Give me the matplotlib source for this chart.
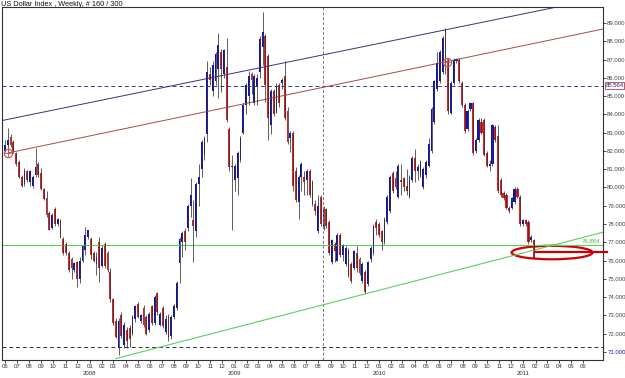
import datetime as dt
import matplotlib
matplotlib.use("Agg")
import matplotlib.pyplot as plt
import matplotlib.transforms as mtransforms
from matplotlib.patches import Ellipse
import numpy as np

# weekly US Dollar Index candles, first week = 1 Jun 2007
opens = [82.0, 82.3, 82.78, 82.5, 81.9, 81.4, 80.6, 80.2, 80.9, 80.3, 80.1, 80.7, 81.3, 80.8, 79.9, 79.4,
         78.6, 77.8, 78.8, 78.0, 78.2, 77.2, 76.9, 76.4, 76.1, 75.5, 75.9, 75.0, 76.0, 76.6, 77.3, 77.2,
         76.4, 75.8, 77.0, 75.7, 76.9, 76.4, 75.4, 73.9, 72.7, 71.2, 73.0, 71.4, 72.2, 72.3, 72.0, 72.8,
         73.6, 72.7, 73.4, 72.9, 72.2, 73.5, 72.6, 74.2,
         72.5, 73.4, 72.1, 72.9, 71.9, 72.9, 73.4, 75.85, 77.0, 77.6, 77.8, 79.0, 78.2, 77.6, 80.2, 81.0,
         81.8, 82.9, 86.2, 85.3, 85.8, 86.5, 87.4, 86.2, 86.6, 83.2, 81.1, 80.4, 80.5, 81.5, 83.0, 84.5,
         85.0, 86.2, 84.6, 85.5, 86.3, 87.7, 88.3, 87.2, 83.4, 85.3, 84.1, 85.6, 85.7, 86.1, 84.2, 82.7,
         83.0, 80.9, 79.2, 80.6, 80.6, 80.4, 80.9, 80.3,
         79.1, 77.6, 79.5, 77.8, 78.8, 78.1, 75.9, 76.9, 76.0, 77.4, 76.3, 75.8, 76.6, 75.8, 75.6, 76.4,
         76.1, 74.9, 75.4, 74.7, 76.1, 76.4, 78.1, 78.0, 77.6, 77.0, 78.1, 78.7, 80.8, 80.5, 79.5, 80.4,
         80.5, 80.1, 79.5, 80.4, 81.6, 80.9, 80.7, 80.0, 80.7, 81.2, 82.0, 83.6, 85.4, 85.8, 86.3, 88.6,
         86.8, 84.1, 85.7, 86.9, 87.0, 85.7, 84.5,
         83.2, 84.3, 84.6, 82.0, 82.6, 83.6, 83.7, 81.9, 81.2, 81.3, 83.3, 82.8, 80.4, 79.7, 79.6, 78.9,
         78.9, 79.2, 79.9, 79.5, 78.0, 78.2, 78.1, 77.1, 77.1]
highs = [82.6, 83.24, 82.9, 82.6, 81.95, 81.5, 80.7, 81.05, 80.95, 80.96, 80.7, 82.14, 81.4, 81.05, 79.95, 79.8,
         78.7, 78.6, 78.95, 78.35, 78.3, 77.3, 77.04, 76.5, 76.21, 75.9, 76.0, 76.21, 76.85, 77.86, 77.7, 77.3,
         76.5, 76.49, 77.31, 76.85, 77.04, 76.5, 75.58, 73.94, 72.84, 72.84, 73.2, 72.66, 72.38, 72.48, 73.02, 73.57,
         73.75, 73.1, 73.57, 73.02, 73.2, 73.57, 74.12, 74.3,
         73.2, 73.5, 73.0, 73.1, 73.0, 73.6, 74.9, 77.3, 77.6, 77.8, 79.1, 80.5, 79.3, 80.3, 81.3, 82.6,
         82.8, 86.9, 86.6, 86.9, 87.4, 88.43, 87.6, 87.6, 88.2, 83.3, 81.8, 81.3, 82.0, 82.8, 84.6, 85.7,
         86.4, 86.3, 86.2, 86.2, 88.3, 89.6, 88.4, 87.3, 85.4, 85.4, 85.7, 85.7, 86.0, 86.9, 84.4, 83.1,
         83.1, 81.1, 80.7, 81.4, 80.9, 81.0, 81.0, 80.4,
         79.3, 79.6, 79.6, 79.0, 78.9, 78.2, 77.2, 77.0, 77.5, 77.5, 76.9, 76.8, 76.7, 75.9, 76.6, 76.8,
         76.2, 75.9, 75.5, 76.0, 76.8, 78.0, 78.3, 78.1, 77.7, 78.4, 79.6, 80.7, 80.9, 80.9, 81.3, 81.3,
         80.6, 81.0, 80.7, 81.7, 82.1, 81.3, 81.5, 81.1, 81.5, 82.7, 84.4, 85.9, 87.4, 87.5, 88.3, 88.7,
         87.1, 85.8, 87.1, 87.1, 87.1, 85.8, 84.6,
         84.3, 84.7, 84.7, 82.7, 83.8, 83.8, 83.8, 82.0, 81.5, 83.5, 83.4, 83.4, 80.5, 79.8, 79.7, 79.0,
         79.5, 80.0, 80.0, 79.6, 78.3, 78.3, 78.2, 77.4, 77.2]
lows = [81.96, 82.0, 82.2, 81.9, 81.2, 80.5, 80.0, 80.1, 80.3, 80.1, 79.95, 80.6, 80.6, 79.85, 79.3, 78.4,
        77.65, 77.75, 77.9, 77.9, 77.25, 76.3, 76.3, 75.39, 75.0, 75.4, 74.57, 74.76, 75.9, 76.3, 77.2, 76.1,
        75.9, 75.21, 74.85, 75.67, 75.58, 75.39, 73.75, 72.48, 71.75, 70.84, 71.75, 71.2, 71.2, 71.29, 71.93, 72.66,
        72.84, 72.6, 72.38, 71.93, 72.11, 72.48, 72.48, 73.02,
        72.4, 72.3, 72.0, 71.6, 71.7, 72.8, 73.3, 74.8, 76.2, 76.6, 77.6, 78.4, 75.9, 77.3, 79.0, 80.6,
        81.5, 82.5, 85.6, 85.0, 85.6, 84.9, 85.2, 86.0, 83.6, 80.9, 77.7, 79.8, 79.6, 81.4, 82.9, 84.0,
        84.5, 85.1, 84.5, 84.5, 86.0, 86.7, 84.7, 82.6, 82.9, 83.9, 84.1, 84.4, 85.4, 83.7, 82.4, 81.96,
        79.8, 79.2, 78.3, 79.8, 79.6, 79.6, 79.5, 79.0,
        78.5, 77.5, 77.9, 77.7, 77.8, 76.3, 75.8, 75.9, 76.0, 76.2, 76.0, 75.7, 75.1, 74.8, 75.5, 75.4,
        75.2, 74.8, 74.2, 74.6, 75.9, 76.3, 77.4, 77.3, 76.6, 76.9, 78.0, 78.6, 79.7, 79.9, 79.4, 79.6,
        79.8, 79.6, 79.4, 80.3, 80.3, 80.4, 80.6, 79.9, 80.5, 81.1, 81.9, 83.5, 85.3, 85.7, 86.2, 86.2,
        84.0, 84.0, 85.6, 86.8, 85.7, 84.4, 83.0,
        83.1, 84.2, 81.8, 81.9, 82.5, 82.9, 81.7, 81.1, 80.9, 81.2, 82.5, 79.7, 79.5, 79.3, 78.8, 78.6,
        78.8, 79.1, 79.4, 77.9, 77.9, 77.9, 76.9, 77.0, 76.1]
closes = [82.3, 82.6, 82.32, 82.0, 81.3, 80.6, 80.1, 80.9, 80.4, 80.9, 80.6, 81.1, 80.7, 79.9, 79.35, 78.5,
          77.7, 78.5, 78.0, 78.3, 77.3, 76.4, 76.4, 75.5, 75.6, 75.85, 75.0, 76.0, 76.8, 77.4, 77.65, 76.3,
          76.0, 76.2, 75.6, 76.7, 75.7, 75.5, 73.9, 72.6, 71.8, 72.7, 71.9, 72.5, 71.6, 71.7, 72.9, 73.5,
          72.9, 73.0, 72.5, 72.0, 73.1, 72.6, 74.0, 73.2,
          73.1, 72.4, 72.8, 71.8, 72.9, 73.5, 74.8, 77.2, 77.5, 77.0, 79.0, 79.6, 77.9, 80.2, 80.6, 82.5,
          82.7, 86.3, 85.9, 86.7, 87.3, 87.8, 86.5, 87.5, 83.7, 81.1, 81.2, 81.2, 81.9, 82.7, 84.5, 85.6,
          86.1, 85.9, 86.1, 86.0, 88.1, 88.5, 85.6, 83.8, 85.3, 84.0, 85.5, 84.6, 85.9, 83.8, 82.5, 83.0,
          80.1, 79.3, 80.6, 81.3, 80.3, 80.9, 79.6, 79.1,
          78.7, 79.0, 78.0, 78.9, 77.9, 76.4, 77.1, 76.5, 77.4, 76.3, 76.8, 76.7, 75.2, 74.9, 76.5, 75.6,
          75.3, 75.8, 74.3, 75.9, 76.7, 77.9, 77.8, 77.4, 77.0, 78.3, 79.5, 80.6, 79.8, 80.0, 81.2, 80.3,
          80.0, 79.8, 80.6, 81.6, 80.9, 81.1, 81.4, 81.0, 81.4, 82.4, 84.3, 85.8, 86.8, 87.4, 88.2, 87.1,
          84.2, 85.7, 87.0, 87.05, 85.8, 84.5, 83.1,
          84.2, 84.6, 81.9, 82.6, 83.7, 83.0, 81.8, 81.2, 81.3, 83.4, 82.6, 79.8, 79.6, 79.4, 78.9, 78.7,
          79.4, 79.9, 79.5, 78.0, 78.2, 78.0, 77.0, 77.3, 76.1]

# drawn objects
navy_trend = ([-1.8, 215.9], [83.64, 90.39])
red_trend = ([1.1, 215.9], [81.89, 88.67])
green_trend = ([40.0, 215.9], [70.64, 77.55])
pivots = ([1.1, 159.6], [81.89, 86.85])
level_navy = 85.564
level_green = 76.864
level_low = 71.27
marker_week = 114.8

start = dt.date(2007, 6, 1)
o = np.array(opens)
h = np.array(highs)
l = np.array(lows)
c = np.array(closes)
x = np.arange(len(c))

fig = plt.figure(figsize=(6.25, 3.78), dpi=100)
fig.patch.set_facecolor('white')
ax = fig.add_axes([2/625, 18/378, 601/625, 353/378])
ax.set_xlim(-1.1, 215.9)
ax.set_ylim(70.56, 89.875)

# guide lines
ax.axhline(level_navy, color='#3a3a88', lw=0.7, ls=(0, (4, 3)))
ax.axhline(level_low, color='#333333', lw=0.7, ls=(0, (4, 3)))
ax.axhline(level_green, color='#5fcf5f', lw=0.8)
ax.axvline(marker_week, color='#777777', lw=0.7, ls=(0, (3, 2)))
ax.plot(*navy_trend, color='#33337f', lw=0.7)
ax.plot(*red_trend, color='#a84848', lw=0.7)
ax.plot(*green_trend, color='#5fcf5f', lw=0.8)

# candles (later weeks drawn a bit thicker, as in the original)
up = c >= o
widths = np.where(x >= 163, 0.85, 0.65)
ax.vlines(x, l, h, color='#333333', lw=0.55)
ax.bar(x, np.maximum(np.abs(c - o), 0.05), bottom=np.minimum(o, c), width=widths,
       color=np.where(up, '#1010c0', '#dd2020'), linewidth=0)

ax.plot(*pivots, ls='none', marker='o', ms=6, mfc='none', mec='#c05050', mew=0.8)
ax.plot(*pivots, ls='none', marker='+', ms=6, mec='#c05050', mew=0.6)

# highlighted zone
ax.add_patch(Ellipse((197.5, 76.44), 29.2, 0.74, fill=False, ec='#d00000', lw=1.6))
ax.plot([191.7, 217.3], [76.47, 76.47], color='#d00000', lw=1.6, clip_on=False)

# x axis: months
ticks, labels = [], []
for k in range(49):
    y, m = 2007 + (5 + k) // 12, (5 + k) % 12 + 1
    ticks.append((dt.date(y, m, 1) - start).days / 7)
    labels.append('%02d' % m + ('\n%d' % y if m == 1 else ''))
ax.set_xticks(ticks)
ax.set_xticklabels(labels, fontsize=4.3, color='#333333', family='Liberation Sans', linespacing=1.5)
ax.tick_params(axis='x', length=2, pad=1, width=0.5)

# y axis: right side
ax.yaxis.tick_right()
yt = np.arange(71, 90)
ax.set_yticks(yt)
ax.set_yticklabels(['%.3f' % v for v in yt], fontsize=4.3, color='#444455', family='Liberation Sans')
ax.get_yticklabels()[0].set_color('#2020a0')
ax.tick_params(axis='y', length=2, pad=1, width=0.5)

for s in ax.spines.values():
    s.set_color('#333333')
    s.set_linewidth(0.8)

tr = mtransforms.blended_transform_factory(ax.transAxes, ax.transData)
ax.text(1.004, level_navy, '85.564', transform=tr, fontsize=4.3, color='#2020a0',
        family='Liberation Sans', va='center', ha='left',
        bbox=dict(boxstyle='square,pad=0.15', fc='white', ec='#a04848', lw=0.6))
ax.text(0.995, level_green + 0.05, '76.864', transform=tr, fontsize=4.3, color='#40b040',
        family='Liberation Sans', style='italic', va='bottom', ha='right')

fig.text(1/625, 1 - 4/378, 'US Dollar Index , Weekly, # 160 / 300', fontsize=5.3,
         family='Liberation Sans', va='center', ha='left', color='#111111')

fig.savefig('out.png', dpi=100)
